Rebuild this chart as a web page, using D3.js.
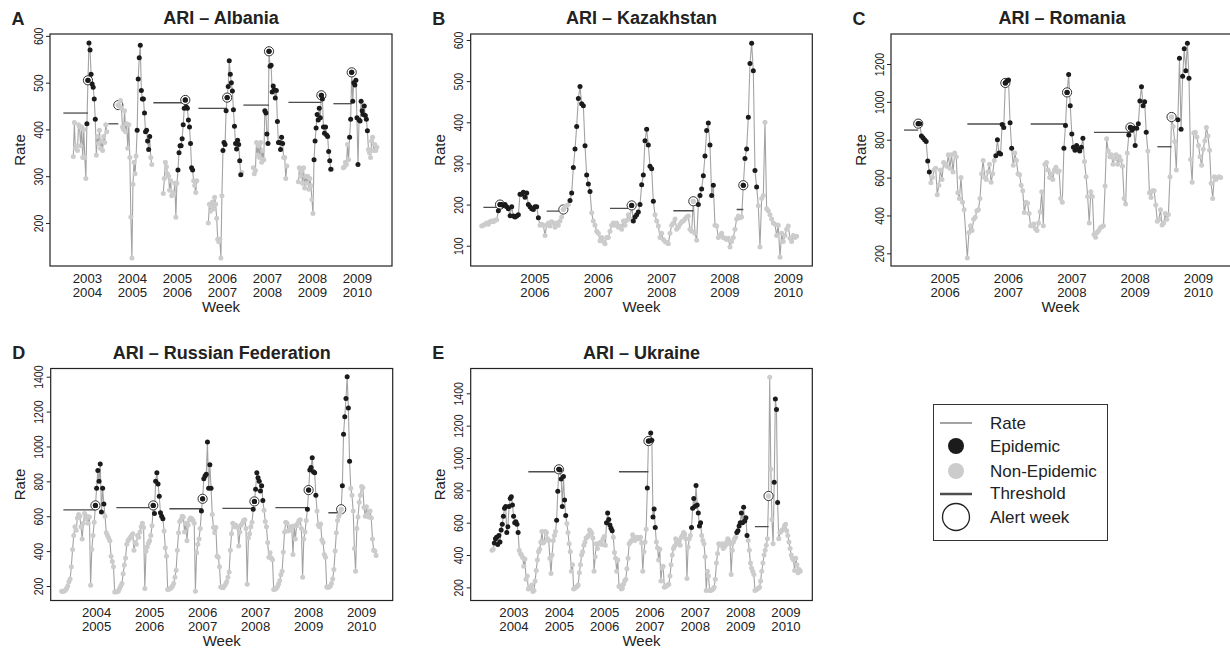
<!DOCTYPE html>
<html><head><meta charset="utf-8">
<script src="https://cdn.jsdelivr.net/npm/d3@7"></script>
<style>
body{margin:0;background:#fff}
svg{display:block}
text{font-family:"Liberation Sans",Arial,Helvetica,sans-serif;fill:#222}
</style>
</head><body>
<svg id="chart" width="1230" height="650"></svg>
<script>
// ---------------- DATA ----------------
// Albania (A)
const albaniaTickLabels = [["2003","2004"],["2004","2005"],["2005","2006"],["2006","2007"],["2007","2008"],["2008","2009"],["2009","2010"]];
const albaniaRates = [
  [342,415,360,365,355,410,405,365,405,340,400,340,295,412,505,585,570,518,497,490,465,422,345,385,370,398,360,375,355,385,372,410,395],
  [452,450,462,445,405,400,440,395,412,360,410,340,213,125,283,330,305,343,398,508,553,580,483,465,465,435,395,398,375,357,385,340,325],
  [263,295,330,320,305,300,270,290,258,265,262,285,212,285,313,350,365,365,380,410,445,463,448,445,420,405,370,318,313,290,280,265,290],
  [200,240,225,235,245,230,255,240,210,165,160,165,125,258,355,372,368,440,468,492,547,518,500,482,442,407,370,358,377,368,333,303,308],
  [318,305,312,372,345,365,340,372,330,355,335,440,435,390,370,567,535,537,480,493,485,467,483,417,372,372,357,383,370,340,340,295,322],
  [288,318,300,310,285,318,275,300,285,300,272,295,280,250,220,335,375,403,432,420,445,425,473,465,405,392,405,388,385,353,333,315,315],
  [318,320,330,325,368,335,383,422,522,460,500,495,505,425,325,420,418,460,440,432,450,430,422,397,357,350,340,375,383,355,368,355,362]
];
const albaniaEpiRuns = [[13,9,11],[18,13,2],[14,15,4],[14,18,1],[11,18,4],[15,17,1],[6,18,9]];
const albaniaThresholds = [435,412,457,445,452,458,455];
const albaniaAlerts = [14,0,21,18,15,22,8];
const albaniaFirstWeek = [0,0,0,0,0,0,0];

// Kazakhstan (B)
const kazakhTickLabels = [["2005","2006"],["2006","2007"],["2007","2008"],["2008","2009"],["2009","2010"]];
const kazakhRates = [
  [148,150,152,155,152,158,160,158,162,163,185,200,200,198,200,195,190,173,195,172,170,172,175,225,225,230,218,228,200,195,190,188,195,195,168,150,152,150],
  [125,150,155,148,158,155,145,155,150,160,170,188,195,198,200,210,228,290,335,390,458,487,445,440,343,272,250,232,180,160,150,135,130,112,120,110,105,120],
  [120,135,150,155,150,155,145,148,140,160,150,162,175,165,198,160,170,175,182,200,248,272,355,383,345,293,287,208,175,160,148,120,130,115,110,108,105,130],
  [150,155,165,140,145,152,158,160,165,170,172,140,135,208,130,113,200,222,238,270,318,380,398,345,222,247,150,148,120,125,130,120,118,115,118,97,110,120],
  [140,165,172,168,170,247,312,335,412,543,592,525,283,243,197,97,215,222,400,190,185,175,165,155,152,125,150,72,130,110,125,140,148,118,110,125,120,123]
];
const kazakhEpiRuns = [[10,25,3],[15,13,10],[14,14,10],[16,10,12],[5,9,24]];
const kazakhThresholds = [193,184,191,185,188];
const kazakhAlerts = [11,11,14,13,5];
const kazakhFirstWeek = [0,0,0,0,0];

// Romania (C)
const romaniaTickLabels = [["2005","2006"],["2006","2007"],["2007","2008"],["2008","2009"],["2009","2010"]];
const romaniaRates = [
  [885,885,820,810,800,790,688,630,573,600,640,650,510,560,640,590,680,670,660,720,650,720,630,730,710,520,490,600,470,430],
  [175,310,345,320,380,390,425,430,490,620,690,600,590,630,670,575,620,690,715,800,730,725,880,865,1100,1110,1115,890,755,665,730,690,620,615,560,530,415,470,465,410],
  [345,345,355,330,320,360,420,525,345,670,680,640,600,620,590,640,655,630,635,490,470,755,875,1050,1145,980,830,760,745,770,750,740,760,808,685,605,500,360,525,500],
  [300,285,310,320,335,340,345,555,805,740,710,720,670,700,720,670,710,690,660,490,460,730,825,865,850,860,770,860,885,1005,1080,980,1000,840,740,520,495,530,530,455],
  [370,380,430,350,360,410,380,405,605,920,870,790,640,905,1230,855,1135,1280,1165,1310,1125,695,575,835,840,815,770,710,665,750,795,865,820,745,570,490,605,590,600,605,600]
];
const romaniaEpiRuns = [[0,8,22],[18,11,11],[21,13,6],[22,12,6],[13,8,20]];
const romaniaThresholds = [851,883,883,839,763];
const romaniaAlerts = [0,24,23,23,9];
const romaniaFirstWeek = [9,0,0,0,0];

// Russian Federation (D)
const russiaTickLabels = [["2004","2005"],["2005","2006"],["2006","2007"],["2007","2008"],["2008","2009"],["2009","2010"]];
const russiaRates = [
  [170,168,172,175,185,200,225,240,310,410,490,540,520,590,610,600,540,470,560,615,585,600,560,595,205,410,490,565,662,760,862,800,900,625,760,670,600,505,490,475,460,370,340,310],
  [165,165,168,170,185,200,215,270,320,360,440,460,470,480,490,500,405,450,440,490,480,510,540,560,535,185,400,425,445,460,490,545,662,615,800,850,785,715,620,600,585,515,420,370],
  [180,182,185,190,200,215,250,290,405,505,570,580,600,595,510,560,460,550,580,590,585,575,560,170,390,440,470,530,630,700,815,830,840,1025,760,895,760,610,535,505,535,370,365,310],
  [195,192,190,200,210,225,250,280,405,500,560,540,550,545,535,430,510,550,560,575,580,530,210,475,500,540,565,640,685,755,850,820,800,745,775,690,635,570,540,450,365,390,360,350],
  [180,182,185,195,210,230,265,285,395,510,565,560,515,520,540,540,380,545,470,545,560,575,580,530,250,470,510,575,640,750,865,880,935,855,850,720,630,550,540,555,465,450,380,365],
  [195,192,195,200,215,240,295,400,505,575,600,615,640,775,1070,1170,1275,1400,1220,915,760,720,630,415,285,530,595,680,720,770,765,650,600,655,610,595,630,590,470,405,400,375]
];
const russiaEpiRuns = [[28,8,8],[32,9,3],[28,9,7],[27,9,8],[28,8,8],[13,7,22]];
const russiaThresholds = [636,649,643,645,649,620];
const russiaAlerts = [28,32,29,28,29,12];
const russiaFirstWeek = [0,0,0,0,0,0];

// Ukraine (E)
const ukraineTickLabels = [["2003","2004"],["2004","2005"],["2005","2006"],["2006","2007"],["2007","2008"],["2008","2009"],["2009","2010"]];
const ukraineRates = [
  [430,435,475,500,510,465,520,480,555,590,640,690,700,540,575,700,750,760,710,640,600,605,590,540,430,410,400,385,330,375,250,270],
  [190,195,200,215,175,180,240,305,370,420,435,480,545,475,480,545,540,500,490,380,285,400,490,520,545,615,795,930,925,870,700,885,740,645,595,540,470,420,300,340],
  [190,195,200,205,215,290,340,400,420,460,480,505,510,520,555,545,535,505,300,390,470,440,470,475,480,465,500,515,460,600,660,620,585,565,550,510,415,380,300,370],
  [205,210,190,195,220,240,250,315,380,470,480,490,525,510,490,500,510,500,505,510,475,300,420,480,560,815,1105,1105,1155,1110,635,685,570,480,445,370,435,240,320,330],
  [200,205,210,215,220,270,340,400,440,455,500,480,470,490,460,510,520,540,530,500,255,450,500,520,570,690,750,700,830,710,660,580,600,520,490,470,390,180,300,270],
  [180,180,185,190,200,250,350,410,470,460,465,470,440,450,460,480,500,490,470,280,430,480,500,510,540,550,580,600,660,600,695,610,630,520,490,430,350,320,300,280],
  [180,185,190,195,200,240,300,350,400,430,460,500,765,1500,930,620,470,850,1365,1300,725,500,540,545,555,560,580,590,550,520,480,440,400,380,370,305,380,340,290,310,300]
];
const ukraineEpiRuns = [[2,22,8],[25,9,6],[29,6,5],[25,8,7],[24,9,7],[24,10,6],[17,4,20]];
const ukraineThresholds = [null,915,null,915,null,null,575];
const ukraineAlerts = [null,27,null,26,null,null,12];
const ukraineFirstWeek = [8,0,0,0,0,0,0];

// Legend entries
const legendItems = ["Rate","Epidemic","Non-Epidemic","Threshold","Alert week"];

// ---------------- DRAWING ----------------
const COL = {line:"#a3a3a3", epi:"#1b1b1b", non:"#cccccc", thr:"#4d4d4d", axis:"#222"};
const svg = d3.select("#chart");
svg.append("rect").attr("width",1230).attr("height",650).attr("fill","#fff");

const panels = [
  {letter:"A", title:"ARI \u2013 Albania", x0:50, x1:392, y0:34, y1:266, xDomain:[-22.26,304.5], yDomain:[108,604],
   yTicks:[200,300,400,500,600], period:43, tickWeek:13.5, thrLead:-9.5, join:false,
   d:{labels:albaniaTickLabels, rates:albaniaRates, runs:albaniaEpiRuns, thr:albaniaThresholds, alerts:albaniaAlerts, first:albaniaFirstWeek}},
  {letter:"B", title:"ARI \u2013 Kazakhstan", x0:470.7, x1:812.3, y0:34, y1:266, xDomain:[-6.6,198.4], yDomain:[50.7,614.6],
   yTicks:[100,200,300,400,500,600], period:38, tickWeek:32, thrLead:1, join:true,
   d:{labels:kazakhTickLabels, rates:kazakhRates, runs:kazakhEpiRuns, thr:kazakhThresholds, alerts:kazakhAlerts, first:kazakhFirstWeek}},
  {letter:"C", title:"ARI \u2013 Romania", x0:891, x1:1233, y0:34, y1:266, xDomain:[-8.21,207.8], yDomain:[133,1358.5],
   yTicks:[200,400,600,800,1000,1200], period:40, tickWeek:26, thrLead:0, join:true,
   d:{labels:romaniaTickLabels, rates:romaniaRates, runs:romaniaEpiRuns, thr:romaniaThresholds, alerts:romaniaAlerts, first:romaniaFirstWeek}},
  {letter:"D", title:"ARI \u2013 Russian Federation", x0:50.7, x1:392.7, y0:368.5, y1:600.5, xDomain:[-9.13,274.8], yDomain:[116.9,1447],
   yTicks:[200,400,600,800,1000,1200,1400], period:44, tickWeek:29, thrLead:1.4, join:true,
   d:{labels:russiaTickLabels, rates:russiaRates, runs:russiaEpiRuns, thr:russiaThresholds, alerts:russiaAlerts, first:russiaFirstWeek}},
  {letter:"E", title:"ARI \u2013 Ukraine", x0:470.7, x1:812.3, y0:368.5, y1:600.5, xDomain:[-10.85,290.6], yDomain:[118.8,1553.4],
   yTicks:[200,400,600,800,1000,1200,1400], period:40, tickWeek:27.4, thrLead:0, join:true,
   d:{labels:ukraineTickLabels, rates:ukraineRates, runs:ukraineEpiRuns, thr:ukraineThresholds, alerts:ukraineAlerts, first:ukraineFirstWeek}}
];

panels.forEach((p, pi) => {
  const g = svg.append("g");
  const x = d3.scaleLinear().domain(p.xDomain).range([p.x0, p.x1]);
  const y = d3.scaleLinear().domain(p.yDomain).range([p.y1, p.y0]);
  const d = p.d;

  const seasons = d.rates.map((vals, s) => {
    const [a, b] = d.runs[s];
    return vals.map((v, i) => ({s, w: s * p.period + d.first[s] + i, v, epi: i >= a && i < a + b, alert: i === d.alerts[s]}));
  });
  const all = seasons.flat();

  const clipId = "clip" + pi;
  g.append("clipPath").attr("id", clipId).append("rect")
    .attr("x", p.x0).attr("y", p.y0).attr("width", p.x1 - p.x0).attr("height", p.y1 - p.y0);
  const plot = g.append("g").attr("clip-path", `url(#${clipId})`);

  const line = d3.line().x(q => x(q.w)).y(q => y(q.v));
  const lineData = p.join ? [all] : seasons;
  plot.selectAll("path.rate").data(lineData).join("path").attr("class","rate")
    .attr("d", line).attr("fill","none").attr("stroke", COL.line).attr("stroke-width", 1.1);

  // thresholds
  d.thr.forEach((t, s) => {
    if (t == null || d.alerts[s] == null) return;
    const aPt = seasons[s][d.alerts[s]];
    plot.append("line")
      .attr("x1", x(s * p.period + p.thrLead)).attr("x2", x(aPt.w))
      .attr("y1", y(t)).attr("y2", y(t))
      .attr("stroke", COL.thr).attr("stroke-width", 1.3);
  });

  // alert rings
  plot.selectAll("circle.alert").data(all.filter(q => q.alert)).join("circle").attr("class","alert")
    .attr("cx", q => x(q.w)).attr("cy", q => y(q.v)).attr("r", 4.6)
    .attr("fill","#fff").attr("stroke","#333").attr("stroke-width",1);

  // points: non-epidemic first, then epidemic
  const ordered = all.filter(q => !q.epi).concat(all.filter(q => q.epi));
  plot.selectAll("circle.pt").data(ordered).join("circle").attr("class","pt")
    .attr("cx", q => x(q.w)).attr("cy", q => y(q.v)).attr("r", 2.5)
    .attr("fill", q => q.epi ? COL.epi : COL.non);
  // re-draw alert points on top
  plot.selectAll("circle.apt").data(all.filter(q => q.alert)).join("circle").attr("class","apt")
    .attr("cx", q => x(q.w)).attr("cy", q => y(q.v)).attr("r", 2.6)
    .attr("fill", q => q.epi ? COL.epi : COL.non);

  // box
  g.append("rect").attr("x", p.x0).attr("y", p.y0).attr("width", p.x1 - p.x0).attr("height", p.y1 - p.y0)
    .attr("fill","none").attr("stroke", COL.axis).attr("stroke-width", 1.2);

  // y axis
  const ya = g.append("g").attr("transform", `translate(${p.x0},0)`)
    .call(d3.axisLeft(y).tickValues(p.yTicks).tickSize(4).tickFormat(d3.format("d")));
  ya.select(".domain").remove();
  ya.selectAll(".tick line").attr("stroke", COL.axis).attr("stroke-width", 1);
  ya.selectAll(".tick text").attr("x", 0).attr("dy", 0).attr("y", 0)
    .attr("text-anchor","middle").attr("font-size", 10.5).attr("fill","#222")
    .attr("font-family", '"Liberation Sans",Arial,sans-serif')
    .attr("transform", "translate(-7.5,0) scale(1.25,1) rotate(-90)");

  // x tick labels (two lines)
  const tickW = d.labels.map((_, s) => s * p.period + p.tickWeek);
  const xl = g.append("g");
  d.labels.forEach((lab, s) => {
    const t = xl.append("text").attr("x", x(tickW[s])).attr("y", p.y1 + 16.8)
      .attr("text-anchor","middle").attr("font-size", 13.2);
    t.append("tspan").attr("x", x(tickW[s])).text(lab[0]);
    t.append("tspan").attr("x", x(tickW[s])).attr("dy", 14).text(lab[1]);
  });

  // axis titles
  const cx = (p.x0 + Math.min(p.x1, 1229)) / 2;
  g.append("text").attr("x", (p.x0 + p.x1) / 2 - (p.x1 > 1229 ? 1.5 : 0)).attr("y", p.y1 + 45.5)
    .attr("text-anchor","middle").attr("font-size", 15).text("Week");
  g.append("text").attr("transform", `translate(${p.x0 - 25.5},${(p.y0 + p.y1) / 2}) rotate(-90)`)
    .attr("text-anchor","middle").attr("font-size", 15).text("Rate");
  g.append("text").attr("x", (p.x0 + p.x1) / 2).attr("y", p.y0 - 10)
    .attr("text-anchor","middle").attr("font-size", 18).attr("font-weight","bold").text(p.title);
  g.append("text").attr("x", p.x0 - 38.5).attr("y", p.y0 - 9.5)
    .attr("font-size", 18).attr("font-weight","bold").text(p.letter);
});

// ---------------- LEGEND ----------------
const lg = svg.append("g");
lg.append("rect").attr("x", 933.5).attr("y", 404.5).attr("width", 174).attr("height", 136)
  .attr("fill","#fff").attr("stroke","#333").attr("stroke-width",1);
const rowY = [423, 446, 471, 494, 517];
const baseY = [429, 451.5, 476.5, 499, 523];
lg.append("line").attr("x1",940).attr("x2",972).attr("y1",rowY[0]).attr("y2",rowY[0])
  .attr("stroke",COL.line).attr("stroke-width",2);
lg.append("circle").attr("cx",956).attr("cy",rowY[1]).attr("r",8).attr("fill",COL.epi);
lg.append("circle").attr("cx",956).attr("cy",rowY[2]).attr("r",8).attr("fill",COL.non);
lg.append("line").attr("x1",940).attr("x2",972).attr("y1",rowY[3]).attr("y2",rowY[3])
  .attr("stroke",COL.thr).attr("stroke-width",2.5);
lg.append("circle").attr("cx",956).attr("cy",rowY[4]).attr("r",13.5).attr("fill","none")
  .attr("stroke","#222").attr("stroke-width",1.3);
lg.selectAll("text.leg").data(legendItems).join("text").attr("class","leg")
  .attr("x", 990).attr("y", (t, i) => baseY[i]).attr("font-size", 17).text(t => t);
</script>
</body></html>
